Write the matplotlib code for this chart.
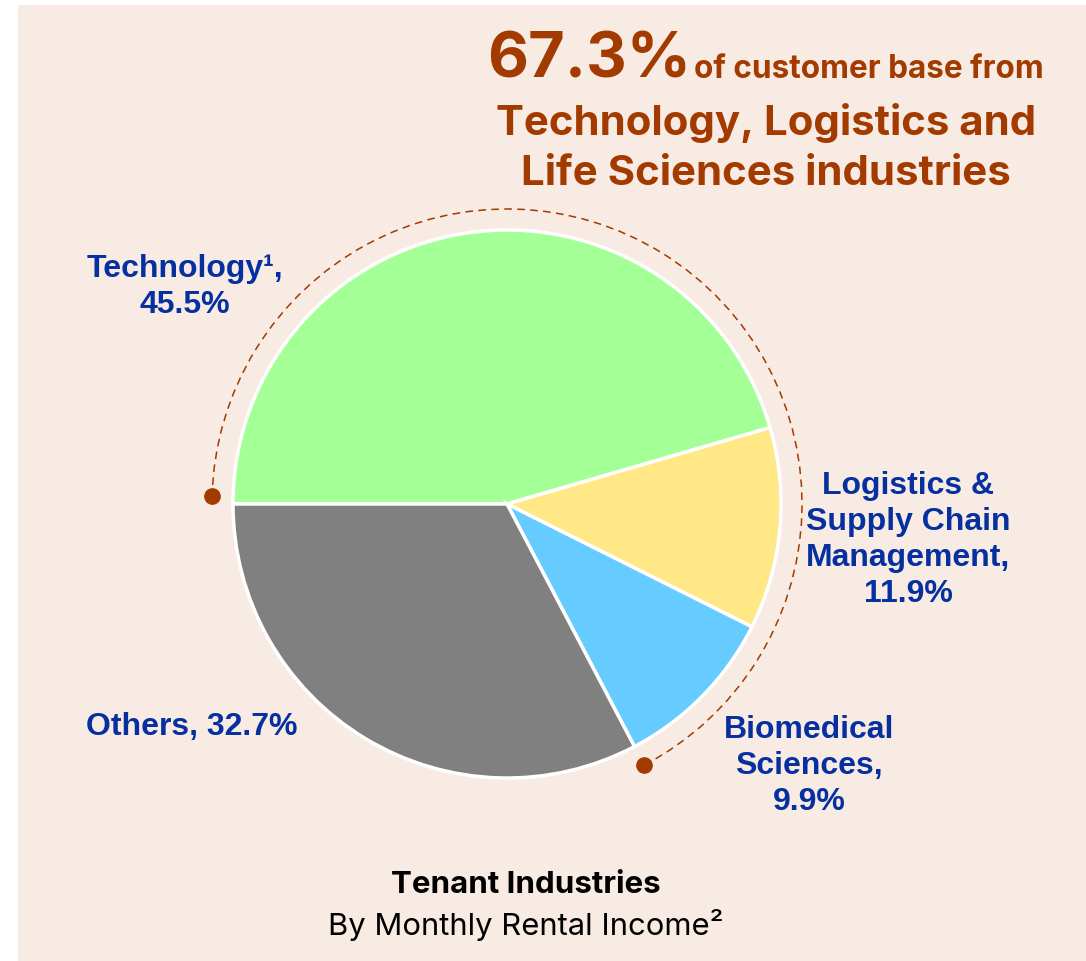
import numpy as np
import matplotlib
matplotlib.use("Agg")
import matplotlib.pyplot as plt
from matplotlib.patches import Rectangle, Arc

# data
industries = ["Technology\u00b9,", "Logistics &\nSupply Chain\nManagement,", "Biomedical\nSciences,", "Others,"]
shares = [45.5, 11.9, 9.9, 32.7]
colors = ["#A3FF96", "#FFE885", "#66CCFF", "#808080"]
highlight = 67.3

W, H = 1086, 962
fig = plt.figure(figsize=(W / 100, H / 100), dpi=100)
fig.patch.set_facecolor("white")
ax = fig.add_axes([0, 0, 1, 1])

peach = "#F8EBE3"
brown = "#A33A00"
blue = "#0630A0"

cx, cy, r = 507, H - 505, 274
ax.pie(shares, colors=colors, startangle=180, counterclock=False,
       center=(cx, cy), radius=r, frame=True,
       wedgeprops=dict(edgecolor="white", linewidth=2.5))
ax.set_xlim(0, W)
ax.set_ylim(0, H)
ax.set_aspect("equal")
ax.axis("off")
ax.add_patch(Rectangle((18, 0), W - 18, H - 6, facecolor=peach, edgecolor="none", zorder=0))

# dashed arc around highlighted share
ra = 295
t1 = 180 - highlight * 3.6
t2 = 178.5
ax.add_patch(Arc((cx, cy), 2 * ra, 2 * ra, theta1=t1, theta2=t2, color=brown,
                 lw=1.1, ls=(0, (5, 3.5)), zorder=3))
for t in (t1, t2):
    ax.plot(cx + ra * np.cos(np.radians(t)), cy + ra * np.sin(np.radians(t)), "o",
            color=brown, ms=11, zorder=4)

lab = dict(color=blue, fontsize=23, fontweight="bold", family="Liberation Sans",
           ha="center", va="center", linespacing=1.26)
ax.text(185, H - 287, industries[0] + "\n%.1f%%" % shares[0], **lab)
ax.text(908, H - 540, industries[1] + "\n%.1f%%" % shares[1], **lab)
ax.text(809, H - 766, industries[2] + "\n%.1f%%" % shares[2], **lab)
ax.text(192, H - 727, industries[3] + " %.1f%%" % shares[3], **lab)

# headline
ax.text(487, H - 78, "%.1f%%" % highlight, color=brown, fontsize=45.5, fontweight="bold",
        family="Inter", ha="left", va="baseline")
ax.text(1044, H - 78, "of customer base from", color=brown, fontsize=22.7, fontweight="bold",
        family="Inter", ha="right", va="baseline")
ax.text(766, H - 135, "Technology, Logistics and", color=brown, fontsize=30.2, fontweight="bold",
        family="Inter", ha="center", va="baseline")
ax.text(766, H - 185, "Life Sciences industries", color=brown, fontsize=30.2, fontweight="bold",
        family="Inter", ha="center", va="baseline")

# caption
ax.text(526, H - 893, "Tenant Industries", color="black", fontsize=22.5, fontweight="bold",
        family="Inter", ha="center", va="baseline")
ax.text(526, H - 935, "By Monthly Rental Income\u00b2", color="black", fontsize=22.3,
        family="Inter", ha="center", va="baseline")

fig.savefig("out.png", dpi=100, facecolor=fig.get_facecolor())
